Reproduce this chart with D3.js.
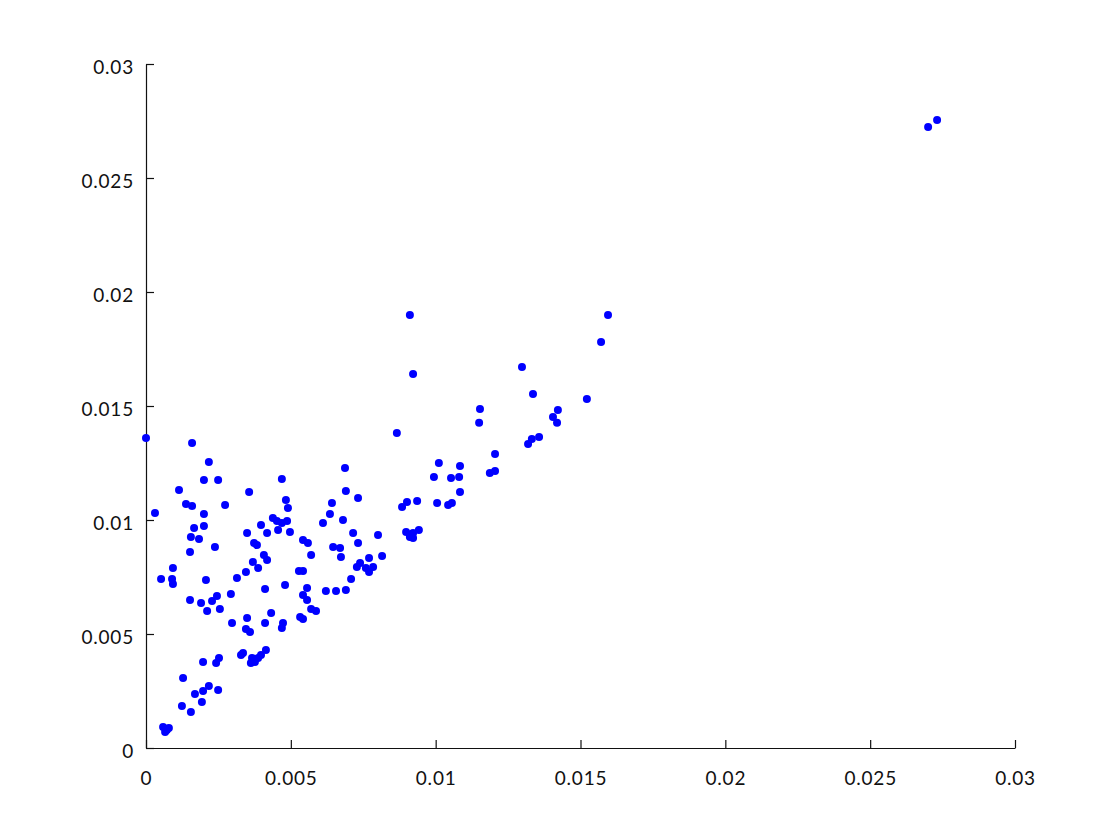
<!DOCTYPE html>
<html>
<head>
<meta charset="utf-8">
<script src="https://cdn.jsdelivr.net/npm/d3@7"></script>
<style>
  body { margin: 0; background: #fff; }
  svg text { font-family: Lato, "Open Sans", sans-serif; }
</style>
</head>
<body>
<svg id="chart"></svg>
<script>
const width = 1120;
const height = 840;

// point values (x, y pairs by index)
const xValues = [
  0, 0.00031, 0.00052, 0.00090, 0.00093, 0.00093, 0.00114, 0.00138, 0.00159, 0.00159,
  0.00152, 0.00155, 0.00183, 0.00166, 0.00200, 0.00200, 0.00200, 0.00217, 0.00249, 0.00273,
  0.00238, 0.00207, 0.00152, 0.00190, 0.00211, 0.00228, 0.00245, 0.00255, 0.00293, 0.00059,
  0.00072, 0.00079, 0.00066, 0.00128, 0.00124, 0.00155, 0.00169, 0.00197, 0.00193, 0.00217,
  0.00249, 0.00197, 0.00242, 0.00252, 0.00297, 0.00314, 0.00345, 0.00369, 0.00387, 0.00373,
  0.00383, 0.00407, 0.00418, 0.00349, 0.00418, 0.00456, 0.00497, 0.00356, 0.00469, 0.00483,
  0.00490, 0.00438, 0.00452, 0.00469, 0.00487, 0.00397, 0.00411, 0.00480, 0.00528, 0.00542,
  0.00542, 0.00559, 0.00556, 0.00542, 0.00556, 0.00570, 0.00587, 0.00570, 0.00349, 0.00345,
  0.00359, 0.00411, 0.00432, 0.00473, 0.00469, 0.00532, 0.00542, 0.00328, 0.00335, 0.00362,
  0.00373, 0.00387, 0.00397, 0.00414, 0.00366, 0.00376, 0.00611, 0.00621, 0.00635, 0.00642,
  0.00646, 0.00656, 0.00670, 0.00673, 0.00680, 0.00687, 0.00690, 0.00690, 0.00708, 0.00715,
  0.00728, 0.00732, 0.00732, 0.00739, 0.00759, 0.00770, 0.00770, 0.00784, 0.00801, 0.00815,
  0.00866, 0.00884, 0.00901, 0.00936, 0.00898, 0.00911, 0.00922, 0.00942, 0.00922, 0.00911,
  0.00922, 0.00994, 0.01011, 0.01053, 0.01081, 0.01084, 0.01084, 0.01005, 0.01043, 0.01056,
  0.01153, 0.01150, 0.01187, 0.01205, 0.01205, 0.01298, 0.01336, 0.01319, 0.01332, 0.01357,
  0.01405, 0.01419, 0.01422, 0.01522, 0.01571, 0.01595, 0.02700, 0.02731
];
const yValues = [
  0.01360, 0.01031, 0.00741, 0.00741, 0.00790, 0.00719, 0.01132, 0.01070, 0.01061, 0.01338,
  0.00860, 0.00925, 0.00917, 0.00965, 0.00974, 0.01026, 0.01175, 0.01254, 0.01175, 0.01066,
  0.00882, 0.00737, 0.00649, 0.00636, 0.00601, 0.00645, 0.00667, 0.00610, 0.00675, 0.00092,
  0.00079, 0.00088, 0.00070, 0.00307, 0.00184, 0.00158, 0.00237, 0.00250, 0.00202, 0.00272,
  0.00254, 0.00377, 0.00373, 0.00395, 0.00548, 0.00746, 0.00772, 0.00816, 0.00790, 0.00899,
  0.00890, 0.00847, 0.00825, 0.00943, 0.00943, 0.00956, 0.00947, 0.01123, 0.01180, 0.01088,
  0.01053, 0.01009, 0.00996, 0.00987, 0.00996, 0.00978, 0.00697, 0.00715, 0.00776, 0.00776,
  0.00912, 0.00899, 0.00702, 0.00671, 0.00649, 0.00610, 0.00601, 0.00847, 0.00570, 0.00522,
  0.00509, 0.00548, 0.00592, 0.00548, 0.00526, 0.00575, 0.00566, 0.00408, 0.00417, 0.00373,
  0.00386, 0.00395, 0.00408, 0.00430, 0.00395, 0.00377, 0.00987, 0.00689, 0.01026, 0.01075,
  0.00882, 0.00689, 0.00877, 0.00838, 0.01000, 0.01228, 0.01127, 0.00693, 0.00741, 0.00943,
  0.00794, 0.01097, 0.00899, 0.00811, 0.00790, 0.00772, 0.00833, 0.00794, 0.00934, 0.00842,
  0.01382, 0.01057, 0.01079, 0.01083, 0.00947, 0.00925, 0.00943, 0.00956, 0.00921, 0.01899,
  0.01640, 0.01189, 0.01250, 0.01184, 0.01189, 0.01237, 0.01123, 0.01075, 0.01066, 0.01075,
  0.01487, 0.01426, 0.01206, 0.01215, 0.01290, 0.01671, 0.01553, 0.01333, 0.01355, 0.01364,
  0.01452, 0.01426, 0.01482, 0.01531, 0.01781, 0.01899, 0.02724, 0.02754
];

const xTicks = [0, 0.005, 0.01, 0.015, 0.02, 0.025, 0.03];
const xTickLabels = ["0", "0.005", "0.01", "0.015", "0.02", "0.025", "0.03"];
const yTicks = [0, 0.005, 0.01, 0.015, 0.02, 0.025, 0.03];
const yTickLabels = ["0", "0.005", "0.01", "0.015", "0.02", "0.025", "0.03"];

const points = xValues.map((x, i) => ({ x: x, y: yValues[i] }));

const plotLeft = 146, plotRight = 1015, plotTop = 64, plotBottom = 748;

let xScale = d3.scaleLinear()
  .domain([0, 0.03])
  .range([plotLeft, plotRight]);

let yScale = d3.scaleLinear()
  .domain([0, 0.03])
  .range([plotBottom, plotTop]);

const svg = d3.select("#chart")
    .attr("width", width)
    .attr("height", height);

// axis
const xAxis = d3.axisBottom(xScale)
  .tickValues(xTicks)
  .tickFormat((d, i) => xTickLabels[i])
  .tickSizeInner(-8)
  .tickSizeOuter(0)
  .tickPadding(24);

const yAxis = d3.axisLeft(yScale)
  .tickValues(yTicks)
  .tickFormat((d, i) => yTickLabels[i])
  .tickSizeInner(-8)
  .tickSizeOuter(0)
  .tickPadding(12);

const gx = svg.append("g")
    .attr("transform", `translate(0, ${plotBottom})`)
    .call(xAxis);

const gy = svg.append("g")
    .attr("transform", `translate(${plotLeft}, 0)`)
    .call(yAxis);

[gx, gy].forEach(g => {
  g.selectAll("text")
    .style("font-size", "19px")
    .style("letter-spacing", "0.8px")
    .attr("fill", "#111");
  g.selectAll("line, path").attr("stroke", "#111").attr("stroke-width", 1.2);
});
gy.selectAll("text").attr("dy", "0.5em");

// points
svg.append("g")
  .selectAll("circle")
  .data(points)
  .enter()
  .append("circle")
    .attr("cx", d => xScale(d.x))
    .attr("cy", d => yScale(d.y))
    .attr("r", 4)
    .attr("fill", "#0000ff");
</script>
</body>
</html>
